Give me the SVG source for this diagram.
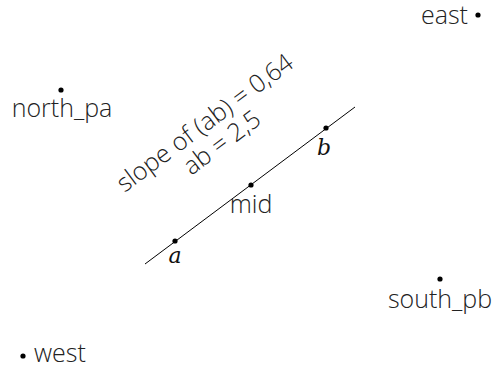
<svg xmlns="http://www.w3.org/2000/svg" width="499" height="368" viewBox="0 0 499 368">
<style>
.lbl{font-family:"Open Sans","Noto Sans",sans-serif;font-size:25px;font-weight:300;fill:#222;}
.it{font-family:"DejaVu Serif","Liberation Serif",serif;font-style:italic;font-size:22px;fill:#111;}
.dot{fill:#000;}
</style>
<rect width="499" height="368" fill="#fff"/>
<g id="connectors">
<line x1="145" y1="264" x2="355" y2="107" stroke="#000" stroke-width="1"/>
</g>
<g id="a"><circle class="dot" cx="175" cy="241" r="2.6"/><text class="it" x="175" y="263" text-anchor="middle">a</text></g>
<g id="b"><circle class="dot" cx="326" cy="128" r="2.6"/><text class="it" x="324" y="155" text-anchor="middle">b</text></g>
<g id="mid"><circle class="dot" cx="251" cy="185" r="2.6"/><text class="lbl" x="251" y="213" text-anchor="middle">mid</text></g>
<g id="east"><circle class="dot" cx="478" cy="15" r="2.6"/><text class="lbl" x="468" y="24" text-anchor="end">east</text></g>
<g id="north_pa"><circle class="dot" cx="61" cy="90" r="2.6"/><text class="lbl" x="62" y="117" text-anchor="middle">north_pa</text></g>
<g id="south_pb"><circle class="dot" cx="440" cy="279" r="2.6"/><text class="lbl" x="440" y="308" text-anchor="middle">south_pb</text></g>
<g id="west"><circle class="dot" cx="23" cy="356" r="2.6"/><text class="lbl" x="34" y="362">west</text></g>
<g id="measure" transform="translate(251,185) rotate(-36.6)">
<text class="lbl" x="0" y="-69" text-anchor="middle">slope of (ab) = 0,64</text>
<text class="lbl" x="2" y="-43" text-anchor="middle">ab = 2,5</text>
</g>
</svg>
